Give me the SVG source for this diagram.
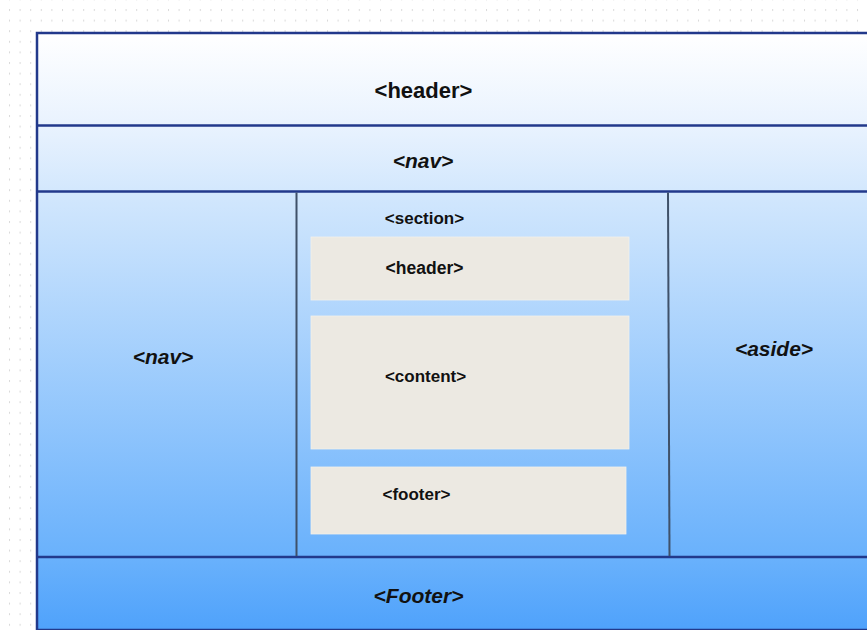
<svg xmlns="http://www.w3.org/2000/svg" width="867" height="630" viewBox="0 0 867 630">
  <defs>
    <pattern id="dotgrid" x="9" y="9" width="10.6" height="10.6" patternUnits="userSpaceOnUse">
      <rect x="0" y="0" width="1" height="2" fill="#d9d9d9"/>
    </pattern>
    <linearGradient id="pageFill" x1="0" y1="33" x2="0" y2="630" gradientUnits="userSpaceOnUse">
      <stop offset="0" stop-color="#ffffff"/>
      <stop offset="0.16" stop-color="#e8f2fe"/>
      <stop offset="0.27" stop-color="#d2e7fd"/>
      <stop offset="0.88" stop-color="#69b1fc"/>
      <stop offset="1" stop-color="#4fa2fb"/>
    </linearGradient>
    <style>
      .frame { fill: url(#pageFill); stroke: #22398b; stroke-width: 2.5; }
      .rule { stroke: #22398b; stroke-width: 2.5; fill: none; }
      .col { stroke: #3f5169; stroke-width: 2; fill: none; }
      .box { fill: #ece9e2; stroke: #f3f1ec; stroke-width: 0.8; }
      .lbl { font-family: "Liberation Sans", Arial, sans-serif; font-weight: bold; fill: #111111; text-anchor: middle; }
      .big { font-size: 21px; }
      .ital { font-style: italic; }
      .small { font-size: 17px; }
    </style>
  </defs>

  <!-- canvas background with dot grid -->
  <rect x="0" y="0" width="867" height="630" fill="#ffffff"/>
  <rect x="0" y="0" width="867" height="630" fill="url(#dotgrid)"/>

  <!-- page frame -->
  <g id="page">
    <rect class="frame" x="37" y="33" width="880" height="597"/>
  </g>

  <!-- layout dividers -->
  <g id="connectors">
    <line class="rule" x1="37" y1="125.5" x2="880" y2="125.5"/>
    <line class="rule" x1="37" y1="191.5" x2="880" y2="191.5"/>
    <line class="rule" x1="37" y1="557" x2="880" y2="557"/>
    <line class="col" x1="296.5" y1="192.5" x2="296.5" y2="556"/>
    <line class="col" x1="668" y1="192.5" x2="669.5" y2="556"/>
  </g>

  <g id="header">
    <text class="lbl" x="423.5" y="97.5" style="font-size:22px">&lt;header&gt;</text>
  </g>

  <g id="nav-top">
    <text class="lbl big ital" x="423" y="168">&lt;nav&gt;</text>
  </g>

  <g id="nav-side">
    <text class="lbl big ital" x="163" y="364">&lt;nav&gt;</text>
  </g>

  <g id="section">
    <text class="lbl small" x="424.5" y="224">&lt;section&gt;</text>
  </g>

  <g id="section-header">
    <rect class="box" x="311" y="237" width="318" height="63"/>
    <text class="lbl" x="424.5" y="274" style="font-size:17.5px">&lt;header&gt;</text>
  </g>

  <g id="section-content">
    <rect class="box" x="311" y="316" width="318" height="133"/>
    <text class="lbl small" x="425.5" y="381.5">&lt;content&gt;</text>
  </g>

  <g id="section-footer">
    <rect class="box" x="311" y="467" width="315" height="67"/>
    <text class="lbl small" x="416.5" y="499.5">&lt;footer&gt;</text>
  </g>

  <g id="aside">
    <text class="lbl big ital" x="774" y="356">&lt;aside&gt;</text>
  </g>

  <g id="footer">
    <text class="lbl big ital" x="418.5" y="603">&lt;Footer&gt;</text>
  </g>
</svg>
